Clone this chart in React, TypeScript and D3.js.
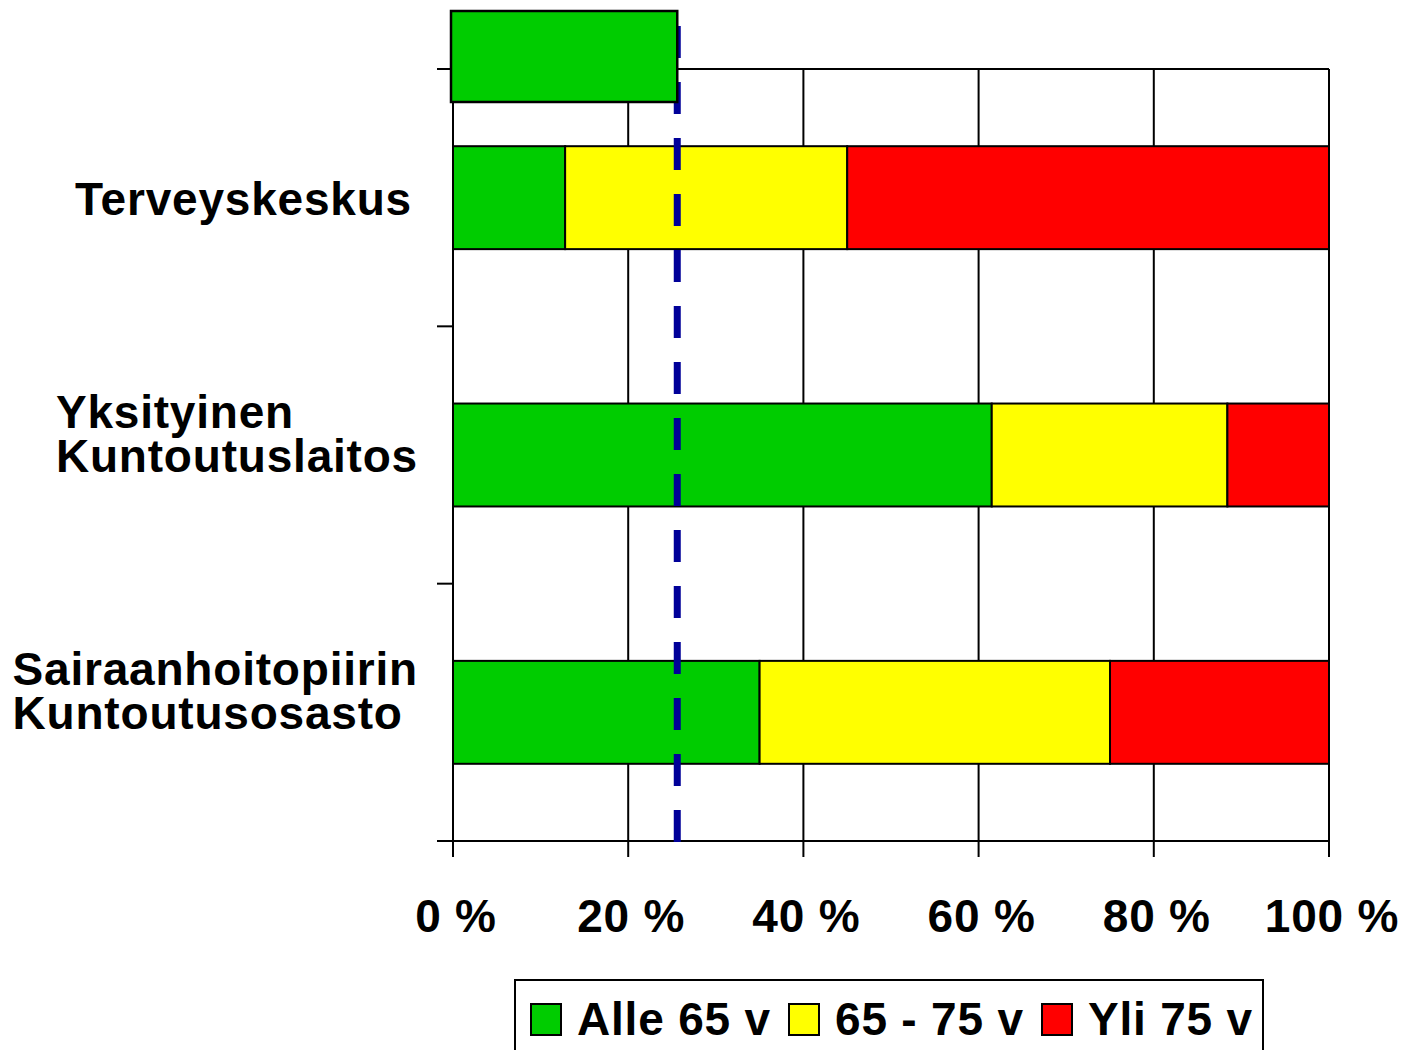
import React, { useEffect, useRef } from "react";
import * as d3 from "d3";

const categories = ["Terveyskeskus", "Yksityinen Kuntoutuslaitos", "Sairaanhoitopiirin Kuntoutusosasto"];
const categoryLines = [["Terveyskeskus"], ["Yksityinen", "Kuntoutuslaitos"], ["Sairaanhoitopiirin", "Kuntoutusosasto"]];
const seriesNames = ["Alle 65 v", "65 - 75 v", "Yli 75 v"];
const seriesColors = ["#00CC00", "#FFFF00", "#FF0000"];
const alle65 = [12.8, 61.5, 35.0];
const v65to75 = [32.2, 26.9, 40.0];
const yli75 = [55.0, 11.6, 25.0];
const averageAlle65 = 25.6;
const xTicks = [0, 20, 40, 60, 80, 100];
const xTickLabels = ["0 %", "20 %", "40 %", "60 %", "80 %", "100 %"];

export default function App() {
  const ref = useRef<SVGSVGElement>(null);

  useEffect(() => {
    const svg = d3.select(ref.current);
    svg.selectAll("*").remove();
    const font = "'Liberation Sans', Arial, sans-serif";
    const ls = 0.8;

    const x = d3.scaleLinear().domain([0, 100]).range([453, 1329]);
    const y = d3.scaleBand<string>().domain(categories).range([69, 841]).paddingInner(0.6).paddingOuter(0.3);
    const top = 69, bottom = 841;
    const step = y.step();

    // top border line
    svg.append("line").attr("x1", 437).attr("x2", x(100)).attr("y1", top).attr("y2", top)
      .attr("stroke", "#000").attr("stroke-width", 2);
    // vertical grid lines + bottom ticks
    svg.selectAll(".grid").data(xTicks).enter().append("line")
      .attr("x1", (d) => x(d)).attr("x2", (d) => x(d))
      .attr("y1", top).attr("y2", bottom + 16)
      .attr("stroke", "#000").attr("stroke-width", 2);
    // bottom axis
    svg.append("line").attr("x1", 437).attr("x2", x(100)).attr("y1", bottom).attr("y2", bottom)
      .attr("stroke", "#000").attr("stroke-width", 2);
    // left ticks at band boundaries
    const boundaries = d3.range(categories.length + 1).map((i) => top + i * step);
    svg.selectAll(".ytick").data(boundaries).enter().append("line")
      .attr("x1", 437).attr("x2", x(0)).attr("y1", (d) => d).attr("y2", (d) => d)
      .attr("stroke", "#000").attr("stroke-width", 2);

    // stacked bars
    const rows = categories.map((c, i) => ({ cat: c, vals: [alle65[i], v65to75[i], yli75[i]] }));
    rows.forEach((r) => {
      let acc = 0;
      r.vals.forEach((v, j) => {
        svg.append("rect")
          .attr("x", x(acc)).attr("y", y(r.cat)!)
          .attr("width", x(acc + v) - x(acc)).attr("height", y.bandwidth())
          .attr("fill", seriesColors[j]).attr("stroke", "#000").attr("stroke-width", 2);
        acc += v;
      });
    });

    // dashed average line
    svg.append("line").attr("x1", x(averageAlle65)).attr("x2", x(averageAlle65))
      .attr("y1", 26).attr("y2", bottom + 1)
      .attr("stroke", "#000099").attr("stroke-width", 7).attr("stroke-dasharray", "32,24");

    // average box on top
    svg.append("rect").attr("x", x(0) - 2).attr("y", top - 58)
      .attr("width", x(averageAlle65) - x(0) + 2).attr("height", 91)
      .attr("fill", seriesColors[0]).attr("stroke", "#000").attr("stroke-width", 2.5);

    // x tick labels
    svg.selectAll(".xl").data(xTicks).enter().append("text")
      .attr("x", (d) => x(d) + 3).attr("y", 932)
      .attr("text-anchor", "middle").attr("font-family", font).attr("font-weight", "bold")
      .attr("font-size", 46).attr("letter-spacing", ls).attr("fill", "#000")
      .text((d, i) => xTickLabels[i]);

    // category labels
    categories.forEach((c, i) => {
      const lines = categoryLines[i];
      const cy = y(c)! + y.bandwidth() / 2;
      const g = svg.append("g");
      const texts = lines.map((ln, k) => {
        const baseline = lines.length === 1 ? cy + 17 : cy - 27 + k * 44;
        return g.append("text").attr("y", baseline).attr("font-family", font)
          .attr("font-weight", "bold").attr("font-size", 46).attr("letter-spacing", ls)
          .attr("fill", "#000").text(ln);
      });
      const widths = texts.map((t) => (t.node() as SVGTextElement).getComputedTextLength());
      const maxW = Math.max(...widths);
      const right = lines.length === 1 ? 412 : 418;
      texts.forEach((t) => t.attr("x", right - maxW));
    });

    // legend
    const lg = svg.append("g");
    lg.append("rect").attr("x", 515).attr("y", 980).attr("width", 748).attr("height", 90)
      .attr("fill", "#fff").attr("stroke", "#000").attr("stroke-width", 2);
    const legendX = [531, 789, 1042];
    seriesNames.forEach((n, i) => {
      lg.append("rect").attr("x", legendX[i]).attr("y", 1004).attr("width", 30).attr("height", 31)
        .attr("fill", seriesColors[i]).attr("stroke", "#000").attr("stroke-width", 2);
      lg.append("text").attr("x", legendX[i] + 46).attr("y", 1035)
        .attr("font-family", font).attr("font-weight", "bold").attr("font-size", 46)
        .attr("letter-spacing", ls).attr("fill", "#000").text(n);
    });
  }, []);

  return (
    <svg ref={ref} width={1407} height={1050}
      style={{ position: "absolute", left: 0, top: 0, background: "#fff" }} />
  );
}
